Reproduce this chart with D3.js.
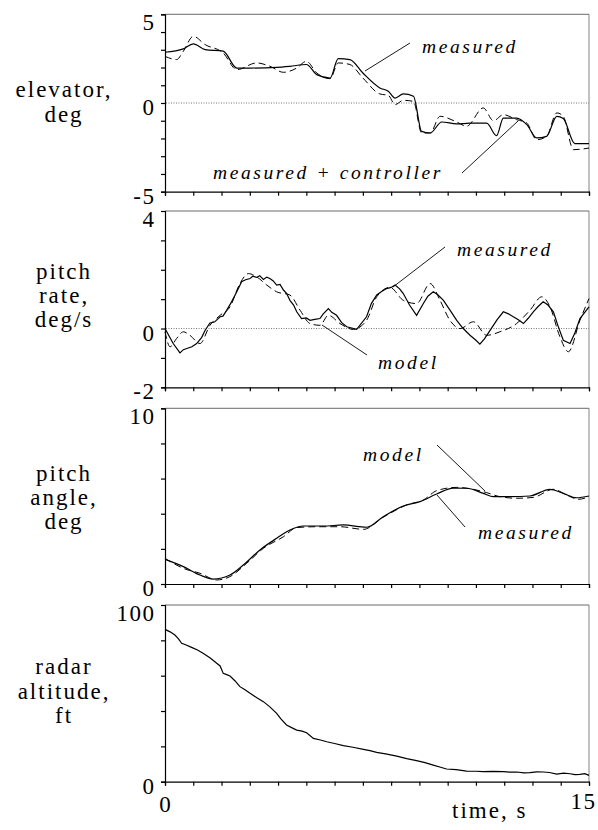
<!DOCTYPE html>
<html><head><meta charset="utf-8">
<script src="https://cdn.jsdelivr.net/npm/d3@7"></script>
</head>
<body style="margin:0;background:#fff"><svg id="c" width="598" height="830"></svg>
<script>
// ---- data (time in s) ----
const elevMeasT = [0,0.65,1.0,1.42,2.06,2.54,3.0,3.95,4.42,5.0,5.37,5.84,6.13,6.54,7.0,7.6,7.9,8.14,8.43,8.79,9.08,9.38,9.79,10.32,10.79,11.38,11.73,11.97,12.44,12.8,13.15,13.5,13.86,14.09,14.5,15];
const elevMeas  = [2.86,3.05,3.33,3.01,2.92,1.97,1.97,2.01,2.07,2.17,1.6,1.41,2.5,2.45,1.69,0.85,0.66,0.28,0.51,0.38,-1.6,-1.69,-1.07,-1.18,-1.14,-1.14,-1.84,-0.85,-0.85,-1.22,-1.97,-1.88,-0.75,-0.88,-2.29,-2.29];
const elevCtrlT = [0,0.41,0.65,1.0,1.42,2.06,2.54,3.24,3.71,4.19,4.66,5.0,5.37,5.84,6.13,6.54,7.0,7.6,7.9,8.14,8.43,8.79,9.08,9.38,9.73,10.32,10.67,11.26,11.62,11.97,12.44,12.8,13.15,13.5,13.86,14.09,14.45,15];
const elevCtrl  = [2.63,2.45,2.92,3.76,3.29,2.82,1.88,2.26,2.07,1.73,1.97,2.35,1.69,1.37,2.26,2.17,1.41,0.51,0.43,-0.09,0.15,0.09,-1.69,-1.69,-0.75,-1.07,-1.31,-0.28,-1.0,-0.66,-0.94,-1.13,-2.07,-1.88,-0.56,-0.75,-2.63,-2.54];

const rateMeasT = [0,0.29,0.53,0.65,0.77,0.95,1.12,1.3,1.42,1.59,1.75,1.95,2.05,2.18,2.35,2.54,2.71,2.85,3.01,3.1,3.24,3.35,3.48,3.6,3.71,3.83,3.95,4.07,4.19,4.3,4.42,4.55,4.66,4.83,5.0,5.13,5.3,5.48,5.6,5.78,5.9,6.07,6.25,6.43,6.78,7.13,7.3,7.49,7.65,7.84,8.0,8.14,8.3,8.43,8.65,8.9,9.14,9.3,9.49,9.65,9.85,10.1,10.32,10.55,10.79,11.0,11.14,11.3,11.5,11.75,11.97,12.15,12.32,12.5,12.68,12.85,13.03,13.2,13.38,13.55,13.74,13.9,14.09,14.33,14.5,14.68,15];
const rateMeas  = [0,-0.51,-0.83,-0.72,-0.68,-0.62,-0.51,-0.3,-0.06,0.19,0.22,0.4,0.42,0.62,0.9,1.25,1.59,1.66,1.7,1.78,1.74,1.8,1.67,1.75,1.7,1.62,1.48,1.5,1.31,1.2,0.96,0.8,0.57,0.34,0.36,0.28,0.31,0.34,0.5,0.68,0.55,0.45,0.2,0.06,-0.03,0.4,0.85,1.14,1.25,1.36,1.4,1.48,1.35,1.19,0.8,0.45,0.85,1.1,1.25,1.15,0.96,0.6,0.28,0.0,-0.23,-0.4,-0.53,-0.35,-0.06,0.3,0.57,0.5,0.4,0.3,0.17,0.35,0.57,0.75,0.91,0.8,0.57,0.1,-0.4,-0.51,-0.15,0.34,0.74];
const rateModelT = [0,0.18,0.41,0.65,0.88,1.24,1.59,1.95,2.3,2.65,2.95,3.24,3.6,3.95,4.42,4.78,5.13,5.48,5.78,6.19,6.66,7.13,7.49,7.96,8.43,8.9,9.38,9.73,10.08,10.44,10.91,11.38,11.85,12.44,12.91,13.33,13.62,13.97,14.27,14.68,15];
const rateModel  = [-0.11,-0.62,-0.34,-0.11,-0.23,-0.51,0.11,0.45,0.74,1.53,1.87,1.76,1.48,1.25,1.14,0.62,0.17,0.11,0.45,0.17,-0.03,0.28,1.08,1.4,0.96,0.85,1.53,0.96,0.28,0.0,0.23,-0.23,-0.11,0.17,0.62,1.08,0.74,-0.28,-0.79,0.28,1.02];

const angMeasT = [0,0.65,1.24,1.71,2.3,2.77,3.36,3.95,4.42,4.89,5.6,6.31,7.13,7.72,8.43,9.02,9.61,10.2,10.67,11.26,11.62,12.21,12.91,13.62,14.09,14.56,15];
const angMeas  = [1.4,0.99,0.51,0.28,0.51,1.08,1.94,2.6,3.07,3.3,3.3,3.36,3.23,3.83,4.44,4.69,5.12,5.46,5.45,5.16,4.97,4.97,5.01,5.39,5.16,4.91,5.01];
const angModelT = [0,0.65,1.24,1.83,2.3,2.89,3.48,4.19,4.66,5.37,6.19,7.02,7.72,8.55,9.14,9.61,10.32,10.91,11.38,11.85,12.44,13.03,13.74,14.21,14.62,15];
const angModel  = [1.46,0.89,0.61,0.23,0.42,1.18,2.03,2.69,3.21,3.26,3.26,3.11,3.8,4.5,4.78,5.31,5.5,5.39,5.2,4.97,4.88,4.93,5.39,5.07,4.82,4.97];

const altT = [0,0.18,0.35,0.47,0.59,0.75,0.94,1.15,1.36,1.6,1.83,1.95,2.06,2.18,2.3,2.48,2.65,2.83,3.01,3.25,3.48,3.7,3.95,4.1,4.3,4.48,4.66,4.85,5.01,5.25,5.5,5.72,6.0,6.31,6.65,7.02,7.25,7.49,7.85,8.2,8.55,8.9,9.2,9.49,9.75,9.96,10.3,10.67,11.0,11.26,11.6,11.97,12.2,12.44,12.7,12.91,13.15,13.38,13.6,13.86,14.1,14.33,14.5,14.68,14.85,15];
const alt  = [86.2,84.8,83,81,78.3,77.4,76,74.5,72.6,70,67,65.5,61.3,60.6,59.8,57,53.8,52,50,47.5,45.3,42.5,38.7,35.5,32.1,30.6,29.2,28.6,27.7,24.5,23.6,22.6,21.6,20.4,19.5,18.3,17.6,16.6,15.6,14.5,13.1,11.9,10.8,9.4,8.2,7.2,6.8,6,5.9,5.7,5.8,5.7,5.4,5.5,5.0,5.1,5.6,5.5,5.2,4.3,4.9,4.5,4.0,4.2,4.6,3.6];

const yLabels = [["elevator,","deg"],["pitch","rate,","deg/s"],["pitch","angle,","deg"],["radar","altitude,","ft"]];
const yDomains = [[-5,5],[-2,4],[0,10],[0,100]];
const yTickStep = [1,1,2,20];
const yTickLabels = [["5","0","-5"],["4","0","-2"],["10","0"],["100","0"]];
const yTickLabelValues = [[5,0,-5],[4,0,-2],[10,0],[100,0]];
const xTickLabels = ["0","15"];
const xTitle = "time, s";

const SERIF = "Liberation Serif";

// ---- layout ----
const svg = d3.select("#c");
const x = d3.scaleLinear().domain([0,15]).range([165,589]);
const panels = [
  {top:14.3,bottom:191.7, labelY:[97,122], zero:true},
  {top:211,bottom:387.3, labelY:[279,303,327], zero:true},
  {top:408.3,bottom:584, labelY:[481,505,529], zero:false},
  {top:605,bottom:781.7, labelY:[674,699,723], zero:false}
];
const ys = panels.map((p,i)=>d3.scaleLinear().domain(yDomains[i]).range([p.bottom,p.top]));

function stext(sel, str, px, py, size, ls, anchor, italic){
  const t = sel.append("text").attr("x",px).attr("y",py)
    .attr("font-family",SERIF).attr("font-size",size).attr("fill","#000")
    .attr("text-anchor",anchor||"start");
  if(italic) t.attr("font-style","italic");
  Array.from(str).forEach((ch,k)=>{
    t.append("tspan").attr("dx", k===0?0:ls).text(ch);
  });
  return t;
}

panels.forEach((p,i)=>{
  const y = ys[i];
  const g = svg.append("g");
  g.append("line").attr("x1",165).attr("x2",589).attr("y1",p.top).attr("y2",p.top).attr("stroke","#444").attr("stroke-width",0.8);
  g.append("line").attr("x1",589).attr("x2",589).attr("y1",p.top).attr("y2",p.bottom).attr("stroke","#666").attr("stroke-width",0.8);
  const ya = d3.axisLeft(y).tickValues(d3.range(yDomains[i][0],yDomains[i][1]+0.001,yTickStep[i])).tickSize(4).tickFormat("");
  g.append("g").attr("transform","translate(165,0)").call(ya).call(s=>{s.selectAll("path,line").attr("stroke","#000").attr("stroke-width",1.2);});
  const xa = d3.axisBottom(x).tickValues(d3.range(0,16)).tickSize(4).tickFormat("");
  g.append("g").attr("transform",`translate(0,${p.bottom})`).call(xa).call(s=>{s.selectAll("path,line").attr("stroke","#000").attr("stroke-width",1.2);});
  yTickLabels[i].forEach((t,k)=>{
    const v = yTickLabelValues[i][k];
    const dy = (v===yDomains[i][1]) ? 16 : 12;
    stext(g, t, 154, y(v)+dy, 23, 1.5, "end");
  });
  yLabels[i].forEach((l,k)=>stext(g, l, 63, p.labelY[k], 23, 2, "middle"));
  if(p.zero){
    g.append("line").attr("x1",166).attr("x2",589).attr("y1",y(0)).attr("y2",y(0))
      .attr("stroke","#555").attr("stroke-width",0.8).attr("stroke-dasharray","1,1.5");
  }
});

function drawLine(i, T, V, dashed, curve){
  const y = ys[i];
  const data = T.map((t,k)=>[t,V[k]]);
  svg.append("path").datum(data)
    .attr("d", d3.line().x(d=>x(d[0])).y(d=>y(d[1])).curve(curve||d3.curveMonotoneX))
    .attr("fill","none").attr("stroke","#000")
    .attr("stroke-width", dashed?1.0:1.2)
    .attr("stroke-dasharray", dashed?"7,4":null);
}
drawLine(0, elevCtrlT, elevCtrl, true);
drawLine(0, elevMeasT, elevMeas, false);
drawLine(1, rateModelT, rateModel, true);
drawLine(1, rateMeasT, rateMeas, false, d3.curveLinear);
drawLine(2, angModelT, angModel, true);
drawLine(2, angMeasT, angMeas, false);
drawLine(3, altT, alt, false, d3.curveLinear);

function note(t, tx, ty, x1,y1,x2,y2){
  stext(svg, t, tx, ty, 19.5, 2.6, "start", true);
  svg.append("line").attr("x1",x1).attr("y1",y1).attr("x2",x2).attr("y2",y2).attr("stroke","#000").attr("stroke-width",0.9);
}
note("measured", 422, 53, 410,43, 365,71);
note("measured + controller", 213, 179, 462,173, 518,121);
note("measured", 457, 256, 445,247, 393,287);
note("model", 378, 369, 367,355, 322,325);
note("model", 363, 461, 437,445, 485,491);
note("measured", 478, 539, 465,527, 437,495);

stext(svg, xTickLabels[0], 165, 812, 23, 0, "middle");
stext(svg, xTickLabels[1], 595, 809, 23, 1.5, "end");
stext(svg, xTitle, 452, 818, 23, 2, "start");
</script></body></html>
